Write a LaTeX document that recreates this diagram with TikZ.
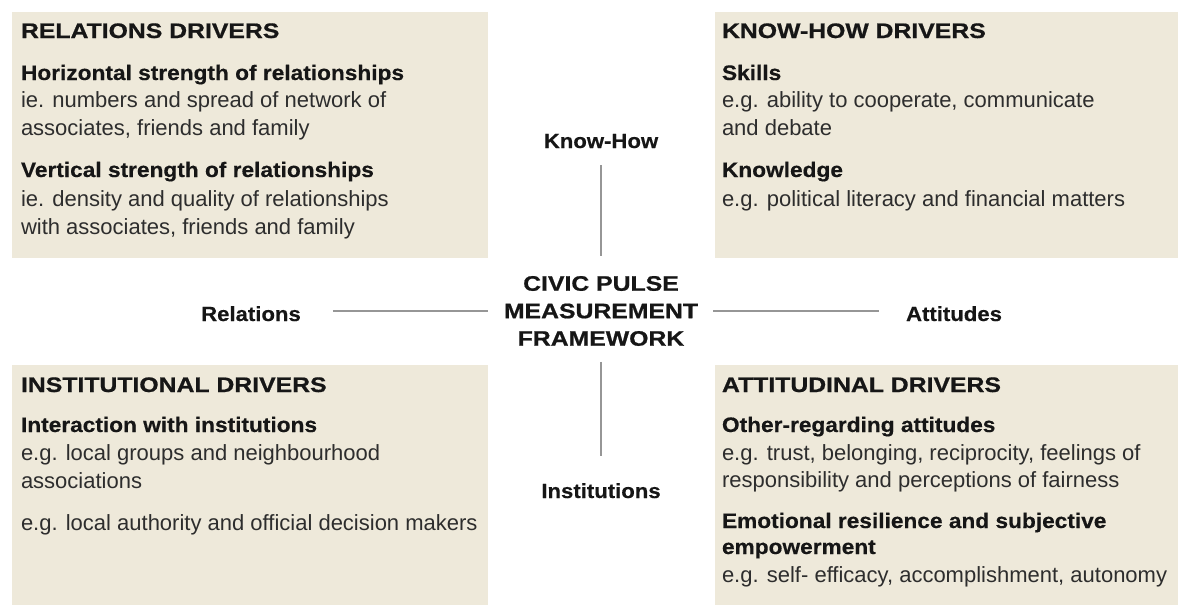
\documentclass[tikz,border=0pt]{standalone}
\usepackage{fontspec}
\setmainfont{Liberation Sans}
% wide heavy grotesque for capital headings, slightly wide one for bold subheads
\newfontfamily\widefont{Liberation Sans}[FakeStretch=1.18,FakeBold=0.8]
\newfontfamily\midfont{Liberation Sans}[FakeStretch=1.08,FakeBold=0.4]
\definecolor{panel}{RGB}{238,233,218}
\definecolor{ink}{RGB}{22,22,22}
\definecolor{bodyink}{RGB}{45,45,45}
\definecolor{rule}{RGB}{150,150,150}
\begin{document}
\begin{tikzpicture}[x=1pt,y=-1pt,
  every node/.style={inner sep=0pt,outer sep=0pt},
  head/.style={anchor=base west,text=ink,font=\widefont\bfseries\fontsize{21}{21}\selectfont},
  sub/.style={anchor=base west,text=ink,font=\midfont\bfseries\fontsize{21}{21}\selectfont},
  body/.style={anchor=base west,text=bodyink,font=\fontsize{22}{22}\selectfont},
  axislabel/.style={anchor=base,text=ink,font=\midfont\bfseries\fontsize{20.5}{20.5}\selectfont},
  hub/.style={align=center,text=ink,font=\widefont\bfseries\fontsize{21}{27.5}\selectfont},
  axis/.style={draw=rule,line width=1.2pt}]
\useasboundingbox (0,0) rectangle (1178,605);

% four driver panels
\fill[panel] (12,12) rectangle (488,258);
\fill[panel] (715,12) rectangle (1178,258);
\fill[panel] (12,365) rectangle (488,605);
\fill[panel] (715,365) rectangle (1178,605);

% relations drivers
\node[head] (relHead) at (21,38) {RELATIONS DRIVERS};
\node[sub]  (relSubA) at (21,80) {Horizontal strength of relationships};
\node[body] (relBodyA1) at (21,107) {ie. numbers and spread of network of};
\node[body] (relBodyA2) at (21,135) {associates, friends and family};
\node[sub]  (relSubB) at (21,177) {Vertical strength of relationships};
\node[body] (relBodyB1) at (21,206) {ie. density and quality of relationships};
\node[body] (relBodyB2) at (21,234) {with associates, friends and family};

% know-how drivers
\node[head] (khHead) at (722,38) {KNOW-HOW DRIVERS};
\node[sub]  (khSubA) at (722,80) {Skills};
\node[body] (khBodyA1) at (722,107) {e.g. ability to cooperate, communicate};
\node[body] (khBodyA2) at (722,135) {and debate};
\node[sub]  (khSubB) at (722,177) {Knowledge};
\node[body] (khBodyB1) at (722,206) {e.g. political literacy and financial matters};

% institutional drivers
\node[head] (instHead) at (21,392) {INSTITUTIONAL DRIVERS};
\node[sub]  (instSubA) at (21,432) {Interaction with institutions};
\node[body] (instBodyA1) at (21,460) {e.g. local groups and neighbourhood};
\node[body] (instBodyA2) at (21,488) {associations};
\node[body] (instBodyB1) at (21,530) {e.g. local authority and official decision makers};

% attitudinal drivers
\node[head] (attHead) at (722,392) {ATTITUDINAL DRIVERS};
\node[sub]  (attSubA) at (722,432) {Other-regarding attitudes};
\node[body] (attBodyA1) at (722,460) {e.g. trust, belonging, reciprocity, feelings of};
\node[body] (attBodyA2) at (722,487) {responsibility and perceptions of fairness};
\node[sub]  (attSubB) at (722,528) {Emotional resilience and subjective};
\node[sub]  (attSubB2) at (722,554) {empowerment};
\node[body] (attBodyB1) at (722,582) {e.g. self- efficacy, accomplishment, autonomy};

% framework hub and its four axes
\node[hub] (hub) at (601,311) {CIVIC PULSE\\MEASUREMENT\\FRAMEWORK};
\node[axislabel] (knowhow) at (601,148) {Know-How};
\node[axislabel] (institutions) at (601,498) {Institutions};
\node[axislabel] (relations) at (251,321) {Relations};
\node[axislabel] (attitudes) at (954,321) {Attitudes};

\draw[axis,shorten <=17pt,shorten >=20pt] (knowhow.south) -- (knowhow.south |- hub.north);
\draw[axis,shorten <=16pt,shorten >=27pt] (hub.south) -- (hub.south |- institutions.north);
\draw[axis,shorten <=32pt,shorten >=16pt] (relations.east |- hub.west) -- (hub.west);
\draw[axis,shorten <=15pt,shorten >=27pt] (hub.east) -- (attitudes.west |- hub.east);
\end{tikzpicture}
\end{document}
